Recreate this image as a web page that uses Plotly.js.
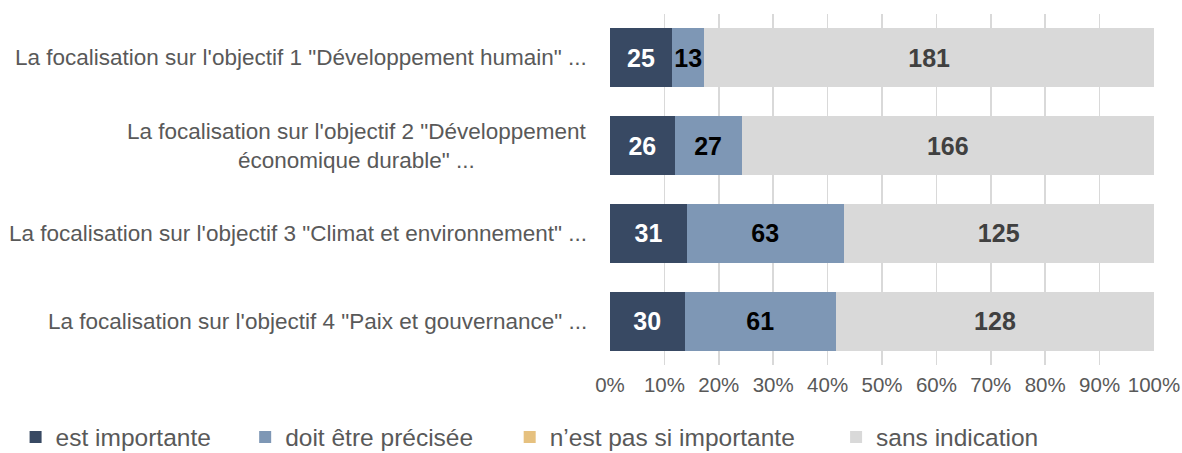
<!DOCTYPE html>
<html>
<head>
<meta charset="utf-8">
<script src="https://cdn.plot.ly/plotly-3.0.1.min.js"></script>
<style>html,body{margin:0;padding:0;background:#fff;}#chart{width:1182px;height:453px;}</style>
</head>
<body>
<div id="chart"></div>
<script>
const categories = [
  'La focalisation sur l\'objectif 1 "Développement humain" ...',
  'La focalisation sur l\'objectif 2 "Développement<br>économique durable" ...',
  'La focalisation sur l\'objectif 3 "Climat et environnement" ...',
  'La focalisation sur l\'objectif 4 "Paix et gouvernance" ...'
];
const seriesNames = ['est importante', 'doit être précisée', 'n’est pas si importante', 'sans indication'];
const estImportante = [25, 26, 31, 30];
const doitEtrePrecisee = [13, 27, 63, 61];
const pasSiImportante = [0, 0, 0, 0];
const sansIndication = [181, 166, 125, 128];
const xTickVals = [0, 10, 20, 30, 40, 50, 60, 70, 80, 90, 100];

const FONT = '"Liberation Sans", Arial, sans-serif';
const colors = ['#384963', '#7E97B5', '#E6C17F', '#D9D9D9'];
const labelColors = ['#FFFFFF', '#000000', '#404040', '#404040'];
const allSeries = [estImportante, doitEtrePrecisee, pasSiImportante, sansIndication];
const legendIds = ['legend', 'legend2', 'legend3', 'legend4'];

const traces = allSeries.map((vals, i) => ({
  type: 'bar',
  orientation: 'h',
  name: seriesNames[i],
  y: categories,
  x: vals,
  text: vals.map(v => v > 0 ? String(v) : ''),
  textposition: 'inside',
  insidetextanchor: 'middle',
  constraintext: 'none',
  textfont: {family: FONT, size: 25, color: labelColors[i], weight: 'bold'},
  marker: {color: colors[i], line: {width: 0}},
  hoverinfo: 'skip',
  legend: legendIds[i],
  showlegend: true
}));

// plot area: left 609.5, right 1154.5 (width 545); top 14, bottom 365 (height 351)
const legendTextX = [50, 280, 545, 872];
const toPaperX = px => (px - 36 - 609.5) / 545;
const legendY = -(437 - 365) / 351;
const legendCommon = {
  orientation: 'h', yanchor: 'middle', xanchor: 'left', y: legendY,
  font: {family: FONT, size: 24.5, color: '#595959'},
  bgcolor: 'rgba(0,0,0,0)', borderwidth: 0, traceorder: 'normal'
};

const layout = {
  width: 1182, height: 453,
  margin: {l: 609.5, r: 27.5, t: 14, b: 88, autoexpand: false},
  paper_bgcolor: '#FFFFFF', plot_bgcolor: '#FFFFFF',
  barmode: 'stack', barnorm: 'percent', bargap: 0.33,
  font: {family: FONT, color: '#595959'},
  xaxis: {
    range: [0, 100], tickvals: xTickVals, ticktext: xTickVals.map(v => v + '%'),
    showgrid: true, gridcolor: '#D9D9D9', gridwidth: 1.5, zeroline: false,
    showline: false, ticks: '', ticklabelstandoff: 5, automargin: false,
    tickfont: {family: FONT, size: 20.5, color: '#595959'}, fixedrange: true
  },
  yaxis: {
    categoryorder: 'array', categoryarray: categories, autorange: 'reversed', automargin: false,
    showticklabels: false, showgrid: false, zeroline: false, showline: false, ticks: '', fixedrange: true
  },
  annotations: categories.map(c => ({
    text: c, xref: 'paper', x: 0, xshift: -21, xanchor: 'right', align: 'center',
    yref: 'y', y: c, yanchor: 'middle', showarrow: false,
    font: {family: FONT, size: 22.5, color: '#595959'}
  })),
  showlegend: true
};
legendIds.forEach((id, i) => {
  layout[id] = Object.assign({}, legendCommon, {x: toPaperX(legendTextX[i])});
});

Plotly.newPlot('chart', traces, layout, {displayModeBar: false, staticPlot: true});
</script>
</body>
</html>
